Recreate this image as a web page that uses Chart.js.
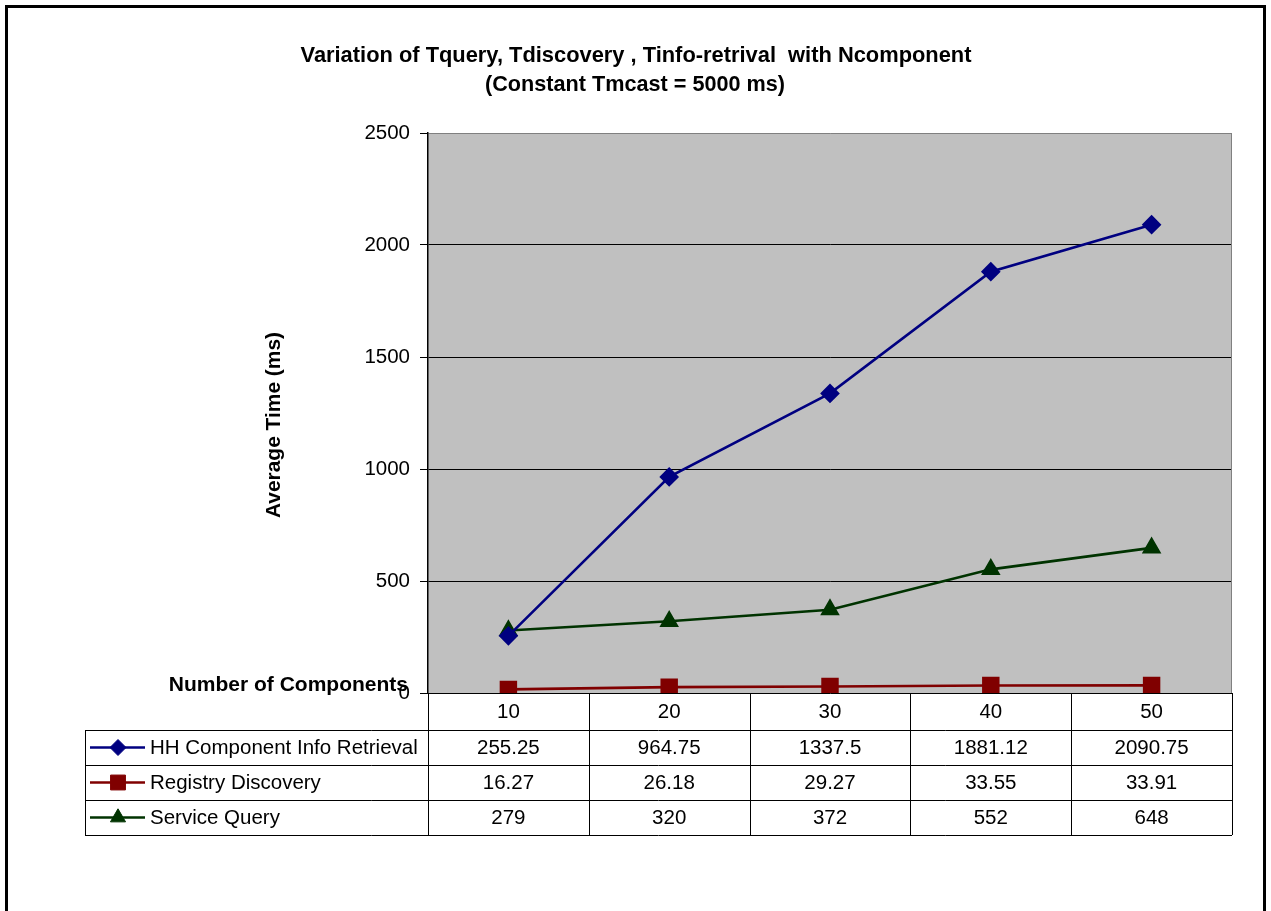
<!DOCTYPE html>
<html>
<head>
<meta charset="utf-8">
<script src="https://cdn.jsdelivr.net/npm/chart.js@4/dist/chart.umd.min.js"></script>
<style>
  html, body { margin: 0; padding: 0; background: #fff; }
  #wrap { width: 1271px; height: 911px; }
</style>
</head>
<body>
<div id="wrap"><canvas id="timeChart" width="1271" height="911"></canvas></div>
<script>
// chart data
const components = ['10', '20', '30', '40', '50'];
const infoRetrieval = [255.25, 964.75, 1337.5, 1881.12, 2090.75];
const registryDiscovery = [16.27, 26.18, 29.27, 33.55, 33.91];
const serviceQuery = [279, 320, 372, 552, 648];
const yTicks = [0, 500, 1000, 1500, 2000, 2500];

const titleLines = ['Variation of Tquery, Tdiscovery , Tinfo-retrival  with Ncomponent', '(Constant Tmcast = 5000 ms)'];
const FONT = '"Liberation Sans", Arial, sans-serif';

// gray plot area, outer frame, titles and the data table
const excelLook = {
    id: 'excelLook',
    beforeDraw(chart) {
        const { ctx, chartArea: a } = chart;
        ctx.save();
        ctx.fillStyle = '#c0c0c0';
        ctx.fillRect(a.left, a.top, a.right - a.left, a.bottom - a.top);
        ctx.restore();
    },
    afterDraw(chart) {
        const { ctx, chartArea: a } = chart;
        const x = chart.scales.x;
        ctx.save();

        // outer frame
        ctx.strokeStyle = '#000';
        ctx.lineWidth = 3;
        ctx.strokeRect(6.5, 6.5, 1258, 920);

        // right edge of plot area
        ctx.lineWidth = 1;
        ctx.strokeStyle = '#808080';
        ctx.beginPath();
        ctx.moveTo(a.right - 0.5, a.top);
        ctx.lineTo(a.right - 0.5, a.bottom);
        ctx.stroke();

        // title
        ctx.fillStyle = '#000';
        ctx.textAlign = 'center';
        ctx.textBaseline = 'middle';
        ctx.font = 'bold 22px ' + FONT;
        ctx.fillText(titleLines[0], 636, 56, 671);
        ctx.fillText(titleLines[1], 635, 85, 300);

        // y axis title
        ctx.save();
        ctx.translate(274, 425);
        ctx.rotate(-Math.PI / 2);
        ctx.font = 'bold 21px ' + FONT;
        ctx.fillText('Average Time (ms)', 0, 0, 186);
        ctx.restore();

        // x axis title
        ctx.textAlign = 'right';
        ctx.font = 'bold 21px ' + FONT;
        ctx.fillText('Number of Components', 408, 685, 240);

        // data table
        const colW = x.getPixelForValue(1) - x.getPixelForValue(0);
        const rowTop = [a.bottom, 730, 765, 800, 835];
        const tableLeft = 85;
        ctx.strokeStyle = '#000';
        ctx.lineWidth = 1;
        ctx.beginPath();
        for (let r = 1; r < rowTop.length; r++) {
            ctx.moveTo(tableLeft, rowTop[r] + 0.5);
            ctx.lineTo(a.right, rowTop[r] + 0.5);
        }
        ctx.moveTo(tableLeft + 0.5, rowTop[1]);
        ctx.lineTo(tableLeft + 0.5, rowTop[4]);
        for (let i = 0; i <= components.length; i++) {
            const bx = Math.round(x.getPixelForValue(0) - colW / 2 + i * colW) + 0.5;
            ctx.moveTo(bx, a.bottom);
            ctx.lineTo(bx, rowTop[4]);
        }
        ctx.stroke();

        ctx.textAlign = 'center';
        ctx.font = '20.5px ' + FONT;
        components.forEach((c, i) => {
            ctx.fillText(c, x.getPixelForValue(i), (rowTop[0] + rowTop[1]) / 2 + 1);
        });

        chart.data.datasets.forEach((ds, r) => {
            const cy = (rowTop[r + 1] + rowTop[r + 2]) / 2 + 1;
            ds.data.forEach((v, i) => {
                ctx.textAlign = 'center';
                ctx.fillStyle = '#000';
                ctx.fillText(String(v), x.getPixelForValue(i), cy);
            });
            // legend key
            ctx.strokeStyle = ds.borderColor;
            ctx.lineWidth = 2.5;
            ctx.beginPath();
            ctx.moveTo(90, cy - 1);
            ctx.lineTo(145, cy - 1);
            ctx.stroke();
            ctx.fillStyle = ds.pointBackgroundColor;
            ctx.strokeStyle = ds.pointBorderColor;
            ctx.lineWidth = 1;
            Chart.helpers.drawPoint(ctx, { pointStyle: ds.pointStyle, radius: ds.pointRadius, borderWidth: 1 }, 118, cy - 1);
            ctx.textAlign = 'left';
            ctx.fillStyle = '#000';
            ctx.fillText(ds.label, 150, cy);
        });

        ctx.restore();
    }
};

const ctx = document.getElementById('timeChart').getContext('2d');

new Chart(ctx, {
    type: 'line',
    data: {
        labels: components,
        datasets: [{
            label: 'HH Component Info Retrieval',
            data: infoRetrieval,
            borderColor: '#000080',
            pointBackgroundColor: '#000080',
            pointBorderColor: '#000080',
            pointStyle: 'rectRot',
            pointRadius: 8,
            borderWidth: 2.6
        }, {
            label: 'Registry Discovery',
            data: registryDiscovery,
            borderColor: '#800000',
            pointBackgroundColor: '#800000',
            pointBorderColor: '#800000',
            pointStyle: 'rect',
            pointRadius: 10.5,
            borderWidth: 2.6
        }, {
            label: 'Service Query',
            data: serviceQuery,
            borderColor: '#003300',
            pointBackgroundColor: '#003300',
            pointBorderColor: '#003300',
            pointStyle: 'triangle',
            pointRadius: 8.7,
            borderWidth: 2.6
        }]
    },
    options: {
        responsive: false,
        animation: false,
        layout: {
            padding: { left: 0, right: 39, top: 133, bottom: 218 }
        },
        plugins: {
            legend: { display: false },
            title: { display: false },
            tooltip: { enabled: false }
        },
        elements: {
            line: { tension: 0 },
            point: { borderWidth: 1, hoverRadius: 0 }
        },
        scales: {
            x: {
                type: 'category',
                offset: true,
                display: false
            },
            y: {
                min: yTicks[0],
                max: yTicks[yTicks.length - 1],
                afterFit(scale) { scale.width = 428; },
                afterBuildTicks(scale) { scale.ticks = yTicks.map(v => ({ value: v })); },
                ticks: {
                    color: '#000',
                    padding: 10,
                    font: { family: FONT, size: 20.5 },
                    callback: v => String(v)
                },
                grid: {
                    color: c => (c.tick && c.tick.value === 2500 ? '#808080' : '#000'),
                    tickColor: '#000',
                    tickLength: 8,
                    lineWidth: 1
                },
                border: { color: '#000', width: 1.5 }
            }
        }
    },
    plugins: [excelLook]
});
</script>
</body>
</html>
